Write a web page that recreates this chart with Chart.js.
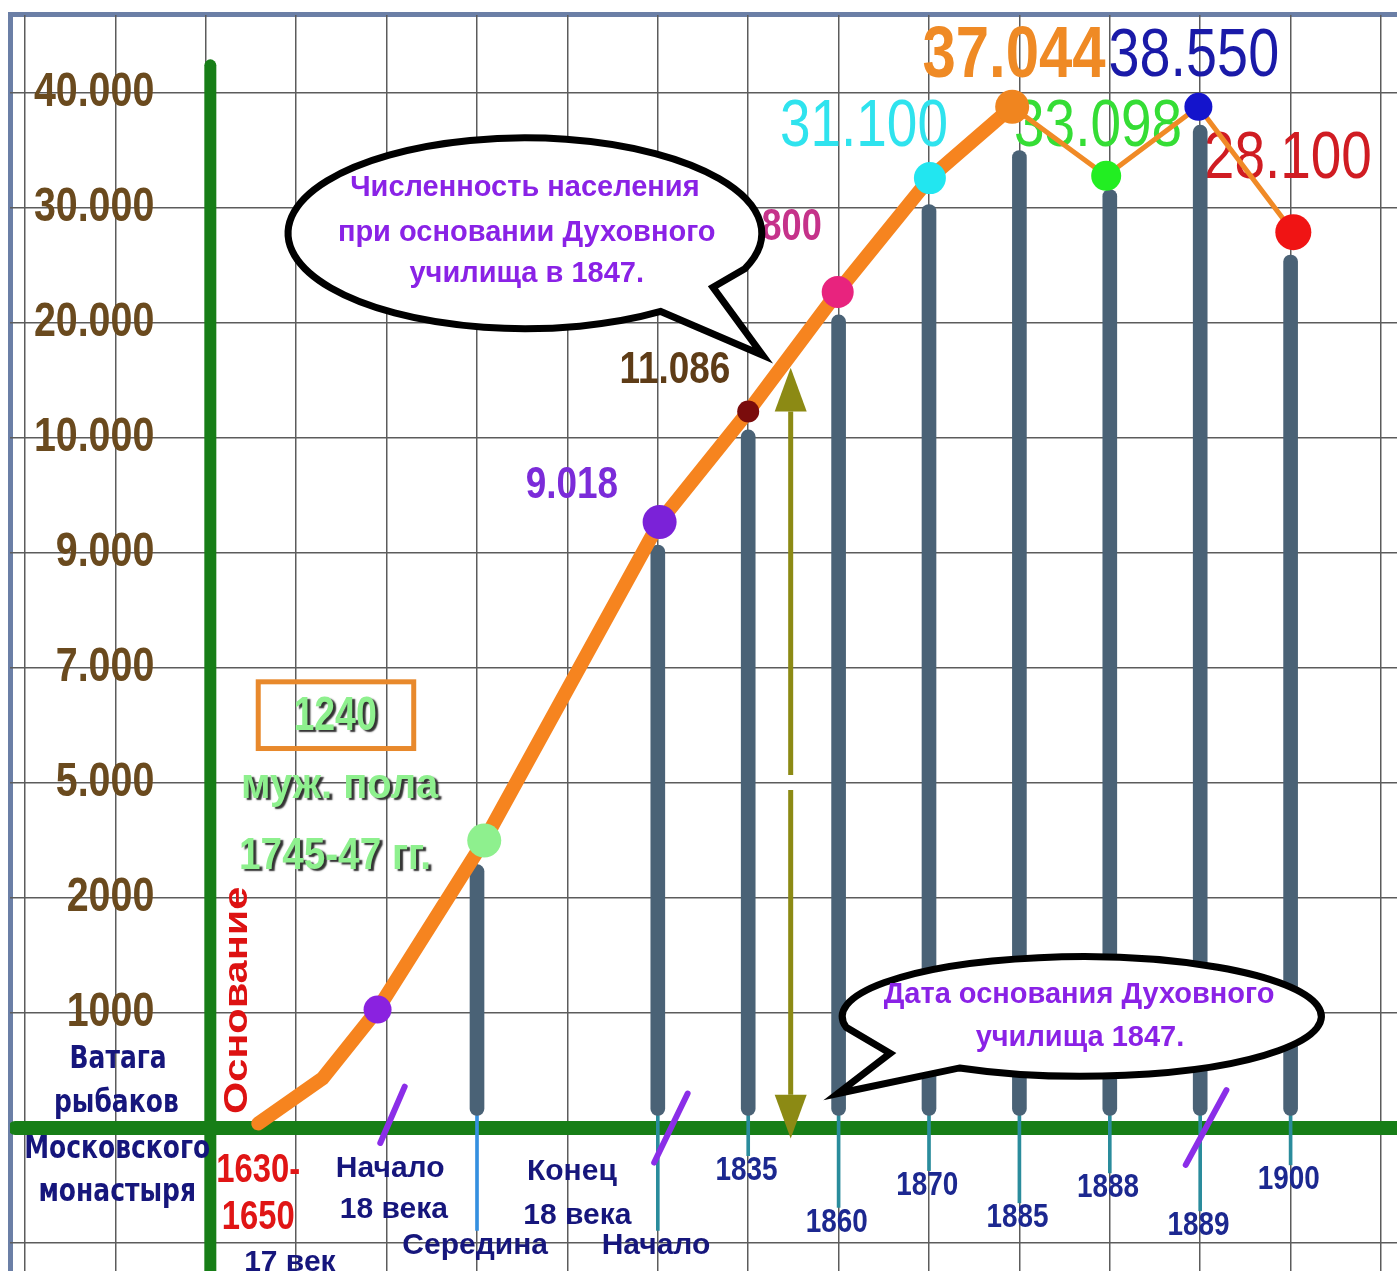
<!DOCTYPE html>
<html>
<head>
<meta charset="utf-8">
<script src="https://cdn.jsdelivr.net/npm/chart.js@4.4.1/dist/chart.umd.min.js"></script>
<style>
  html, body { margin: 0; padding: 0; background: #fff; }
  #wrap { width: 1397px; height: 1271px; }
</style>
</head>
<body>
<div id="wrap"><canvas id="popChart" width="1397" height="1271"></canvas></div>
<script>
// y axis is a stepped scale: one grid row per label
const yTickLabels = ['1000', '2000', '5.000', '7.000', '9.000', '10.000', '20.000', '30.000', '40.000'];

// orange population line (x = grid column, y = grid row)
const trendX = [2.58, 3.29, 3.90, 5.08, 7.02, 8.00, 8.99, 10.01, 10.92];
const trendY = [0.04, 0.43, 1.03, 2.50, 5.27, 6.23, 7.27, 8.26, 8.88];
const lateX = [10.92, 11.96, 12.98, 14.03];
const lateY = [8.88, 8.28, 8.88, 7.79];

// coloured dots and their values
const markerX = [3.90, 5.08, 7.02, 8.00, 8.99, 10.01, 10.92, 11.96, 12.98, 14.03];
const markerY = [1.03, 2.50, 5.27, 6.23, 7.27, 8.26, 8.88, 8.28, 8.88, 7.79];
const markerValues = ['', '', '9.018', '11.086', '800', '31.100', '37.044', '33.098', '38.550', '28.100'];

// grey columns and the captions under them
const stemX = [5, 7, 8, 9, 10, 11, 12, 13, 14];
const stemTop = [2.29, 5.07, 6.07, 7.07, 8.03, 8.50, 8.16, 8.72, 7.59];
const stemCaptions = ['Середина', 'Начало', '1835', '1860', '1870', '1885', '1888', '1889', '1900'];
const captionY = [-1.02, -1.02, -0.37, -0.82, -0.50, -0.78, -0.52, -0.85, -0.45];

// ---------------- styles ----------------
const SANS = '"Liberation Sans", Arial, sans-serif';
const NARROW = 0.82; // squeeze factor standing in for a narrow face
const markerColors = ['#8a22e0', '#8ef08e', '#7b22d8', '#7a0c0c', '#e8237e', '#22e6f0', '#f0851f', '#22ee22', '#1414cc', '#f01414'];
const markerSizes = [14, 17, 17, 11, 16, 16, 17, 15, 14, 18];
const valueStyles = [
  null, null,
  { x: 6.05, y: 5.59, font: 'bold 45px ' + SANS, color: '#7b2bd9' },
  { x: 7.19, y: 6.59, font: 'bold 45px ' + SANS, color: '#5e3c17' },
  { x: 8.48, y: 7.83, font: 'bold 44px ' + SANS, color: '#c5328a' },
  { x: 9.28, y: 8.70, font: '67px ' + SANS, color: '#2fe3ee' },
  { x: 10.94, y: 9.31, font: 'bold 73px ' + SANS, color: '#ef8a25' },
  { x: 11.87, y: 8.70, font: '67px ' + SANS, color: '#35dd35' },
  { x: 12.93, y: 9.31, font: '68px ' + SANS, color: '#1a1aa8' },
  { x: 13.97, y: 8.42, font: '67px ' + SANS, color: '#d01c22' }
];
const NAVY = '#16167c';
const YEAR = '#1c2890';
const PURPLE = '#8a22e6';

function drawText(ctx, txt, x, y, font, color, o) {
  o = o || {};
  ctx.save();
  ctx.translate(x, y);
  if (o.rot) ctx.rotate(o.rot);
  ctx.scale(o.sx || 1, o.sy || 1);
  ctx.font = font;
  ctx.fillStyle = color;
  ctx.textAlign = o.align || 'center';
  ctx.textBaseline = 'middle';
  if (o.shadow) {
    ctx.shadowColor = o.shadow;
    ctx.shadowBlur = 1.5;
    ctx.shadowOffsetX = 3;
    ctx.shadowOffsetY = 2;
  }
  ctx.fillText(txt, 0, 0);
  ctx.restore();
}

function bubble(ctx, xs, ys, b) {
  const cx = xs.getPixelForValue(b.cx), cy = ys.getPixelForValue(b.cy);
  const rx = xs.getPixelForValue(b.cx + b.rx) - cx;
  const ry = ys.getPixelForValue(b.cy) - ys.getPixelForValue(b.cy + b.ry);
  ctx.save();
  ctx.beginPath();
  ctx.ellipse(cx, cy, rx, ry, 0, b.a0, b.a1 + Math.PI * 2);
  b.tail.forEach(p => ctx.lineTo(xs.getPixelForValue(p[0]), ys.getPixelForValue(p[1])));
  ctx.closePath();
  ctx.fillStyle = '#fff';
  ctx.fill();
  ctx.lineWidth = 7;
  ctx.lineJoin = 'miter';
  ctx.strokeStyle = '#000';
  ctx.stroke();
  ctx.restore();
  b.lines.forEach(l => drawText(ctx, l[0], xs.getPixelForValue(l[1]), ys.getPixelForValue(l[2]),
    'bold 29px ' + SANS, PURPLE));
}

const backdrop = {
  id: 'backdrop',
  beforeDraw(chart) {
    const ctx = chart.ctx;
    ctx.save();
    ctx.fillStyle = '#fff';
    ctx.fillRect(0, 0, chart.width, chart.height);
    ctx.fillStyle = '#6b7fa6';
    ctx.fillRect(8, 12, chart.width - 8, 5);
    ctx.fillRect(8, 12, 5, chart.height - 12);
    ctx.restore();
  }
};

// texts that sit under the lines
const underText = {
  id: 'underText',
  beforeDatasetsDraw(chart) {
    const ctx = chart.ctx, xs = chart.scales.x, ys = chart.scales.y;
    yTickLabels.forEach((t, i) => {
      drawText(ctx, t, xs.getPixelForValue(1.43), ys.getPixelForValue(i + 1),
        'bold 48px ' + SANS, '#6a4a1e', { align: 'right', sx: NARROW });
    });
    markerValues.forEach((t, i) => {
      const s = valueStyles[i];
      if (!t || !s) return;
      drawText(ctx, t, xs.getPixelForValue(s.x), ys.getPixelForValue(s.y), s.font, s.color, { sx: NARROW });
    });
  }
};

// bubbles, arrow heads and captions on top
const overText = {
  id: 'overText',
  afterDatasetsDraw(chart) {
    const ctx = chart.ctx, xs = chart.scales.x, ys = chart.scales.y;
    const X = v => xs.getPixelForValue(v), Y = v => ys.getPixelForValue(v);

    // arrow heads
    ctx.save();
    ctx.fillStyle = '#8c8a14';
    [[6.61, 6.23], [-0.09, 0.29]].forEach(h => {
      ctx.beginPath();
      ctx.moveTo(X(8.47), Y(h[0]));
      ctx.lineTo(X(8.47) - 16, Y(h[1]));
      ctx.lineTo(X(8.47) + 16, Y(h[1]));
      ctx.closePath();
      ctx.fill();
    });
    ctx.restore();

    bubble(ctx, xs, ys, {
      cx: 5.53, cy: 7.78, rx: 2.62, ry: 0.83, a0: 0.96, a1: 0.38,
      tail: [[7.61, 7.31], [8.16, 6.72]],
      lines: [['Численность населения', 5.53, 8.17], ['при основании Духовного', 5.55, 7.78], ['училища в 1847.', 5.55, 7.43]]
    });
    bubble(ctx, xs, ys, {
      cx: 11.69, cy: 0.97, rx: 2.65, ry: 0.52, a0: 2.96, a1: 2.106,
      tail: [[8.99, 0.30], [9.57, 0.65]],
      lines: [['Дата основания Духовного', 11.66, 1.16], ['училища 1847.', 11.67, 0.78]]
    });

    // 1240 box
    ctx.save();
    ctx.strokeStyle = '#e8892c';
    ctx.lineWidth = 5;
    ctx.strokeRect(X(2.58), Y(3.88), X(4.30) - X(2.58), Y(3.30) - Y(3.88));
    ctx.restore();
    const lg = '#8ef08e';
    drawText(ctx, '1240', X(3.43), Y(3.58), 'bold 48px ' + SANS, lg, { shadow: '#333', sx: 0.78 });
    drawText(ctx, 'муж. пола', X(3.48), Y(2.97), 'bold 42px ' + SANS, lg, { shadow: '#333', sx: 0.95 });
    drawText(ctx, '1745-47 гг.', X(3.43), Y(2.36), 'bold 44px ' + SANS, lg, { shadow: '#333', sx: 0.88 });

    // left block
    const lb = 'bold 25px "DejaVu Sans"';
    drawText(ctx, 'Ватага', X(1.03), Y(0.59), lb, NAVY, { sy: 1.25 });
    drawText(ctx, 'рыбаков', X(1.01), Y(0.21), lb, NAVY, { sy: 1.25 });
    drawText(ctx, 'Московского', X(1.02), Y(-0.19), lb, NAVY, { sy: 1.25 });
    drawText(ctx, 'монастыря', X(1.02), Y(-0.56), lb, NAVY, { sy: 1.25 });

    drawText(ctx, 'Основание', X(2.35), Y(1.11), 'bold 34px ' + SANS, '#dd1212', { rot: -Math.PI / 2, sx: 1.22 });
    drawText(ctx, '1630-', X(2.58), Y(-0.37), 'bold 40px ' + SANS, '#e01515', { sx: NARROW });
    drawText(ctx, '1650', X(2.58), Y(-0.78), 'bold 40px ' + SANS, '#e01515', { sx: NARROW });
    drawText(ctx, '17 век', X(2.93), Y(-1.17), 'bold 30px ' + SANS, NAVY);

    const bf = 'bold 30px ' + SANS;
    drawText(ctx, 'Начало', X(4.04), Y(-0.35), bf, NAVY);
    drawText(ctx, '18 века', X(4.08), Y(-0.71), bf, NAVY);
    drawText(ctx, 'Конец', X(6.05), Y(-0.38), bf, NAVY);
    drawText(ctx, '18 века', X(6.11), Y(-0.76), bf, NAVY);

    stemCaptions.forEach((t, i) => {
      const isYear = /^\d+$/.test(t);
      drawText(ctx, t, X(stemX[i] - 0.02), Y(captionY[i]),
        isYear ? 'bold 34px ' + SANS : bf, isYear ? YEAR : NAVY, { sx: isYear ? NARROW : 1 });
    });
  }
};

const pts = (xs, ys) => xs.map((x, i) => ({ x: x, y: ys[i] }));

new Chart(document.getElementById('popChart'), {
  type: 'line',
  data: {
    datasets: [
      { // dots
        data: pts(markerX, markerY),
        showLine: false,
        pointRadius: markerSizes,
        pointBackgroundColor: markerColors,
        pointBorderWidth: 0,
        order: 1
      },
      { // arrow shaft
        data: [{ x: 8.47, y: 6.23 }, { x: 8.47, y: 3.07 }, { x: 8.47, y: null }, { x: 8.47, y: 2.94 }, { x: 8.47, y: 0.29 }],
        borderColor: '#8c8a14', borderWidth: 5, pointRadius: 0, spanGaps: false,
        order: 2
      },
      { // purple break marks
        data: [{ x: 3.93, y: -0.13 }, { x: 4.20, y: 0.36 }, { x: 5, y: null },
               { x: 6.96, y: -0.30 }, { x: 7.33, y: 0.30 }, { x: 9, y: null },
               { x: 12.84, y: -0.32 }, { x: 13.29, y: 0.33 }],
        borderColor: '#8b2ee8', borderWidth: 6, pointRadius: 0, spanGaps: false, borderCapStyle: 'round',
        order: 3
      },
      { // main orange line
        data: pts(trendX, trendY),
        borderColor: '#f6841f', borderWidth: 14, pointRadius: 0,
        borderCapStyle: 'round', borderJoinStyle: 'round',
        order: 4
      },
      { // thin orange line
        data: pts(lateX, lateY),
        borderColor: '#f08a26', borderWidth: 5, pointRadius: 0,
        borderCapStyle: 'round', borderJoinStyle: 'round',
        order: 5
      },
      { // grey columns
        type: 'bar',
        data: stemX.map((x, i) => ({ x: x, y: [0.11, stemTop[i]] })),
        backgroundColor: '#4a6276',
        barThickness: 14, borderRadius: 7, borderSkipped: false, grouped: false,
        order: 6
      },
      { // thin ticks below the axis
        type: 'bar',
        data: stemX.map((x, i) => ({ x: x, y: [captionY[i] + 0.13, 0.11] })),
        backgroundColor: ['#3590e0', '#2a8c9c', '#2a8c9c', '#2a8c9c', '#2a8c9c', '#2a8c9c', '#2a8c9c', '#2a8c9c', '#2a8c9c'],
        barThickness: 3, grouped: false,
        order: 7
      },
      { // green x axis
        data: [{ x: -0.11, y: 0 }, { x: 15.3, y: 0 }],
        borderColor: '#177e17', borderWidth: 14, pointRadius: 0, borderCapStyle: 'round',
        order: 8
      },
      { // green y axis
        data: [{ x: 2.05, y: -1.4 }, { x: 2.05, y: 9.24 }],
        borderColor: '#177e17', borderWidth: 12, pointRadius: 0, borderCapStyle: 'round',
        order: 9
      }
    ]
  },
  options: {
    responsive: false,
    animation: false,
    devicePixelRatio: 1,
    events: [],
    layout: { autoPadding: false, padding: { left: 10, top: 15, right: 0, bottom: 0 } },
    plugins: { legend: { display: false }, tooltip: { enabled: false } },
    scales: {
      x: {
        type: 'linear', min: -0.166, max: 15.177, offset: false,
        ticks: { display: false, stepSize: 1, includeBounds: false },
        grid: { color: '#5c5c5c', lineWidth: 1.5, drawTicks: false, offset: false },
        border: { display: false }
      },
      y: {
        type: 'linear', min: -1.243, max: 9.678,
        ticks: { display: false, stepSize: 1, includeBounds: false },
        grid: { color: '#5c5c5c', lineWidth: 1.5, drawTicks: false },
        border: { display: false }
      }
    }
  },
  plugins: [backdrop, underText, overText]
});
</script>
</body>
</html>
